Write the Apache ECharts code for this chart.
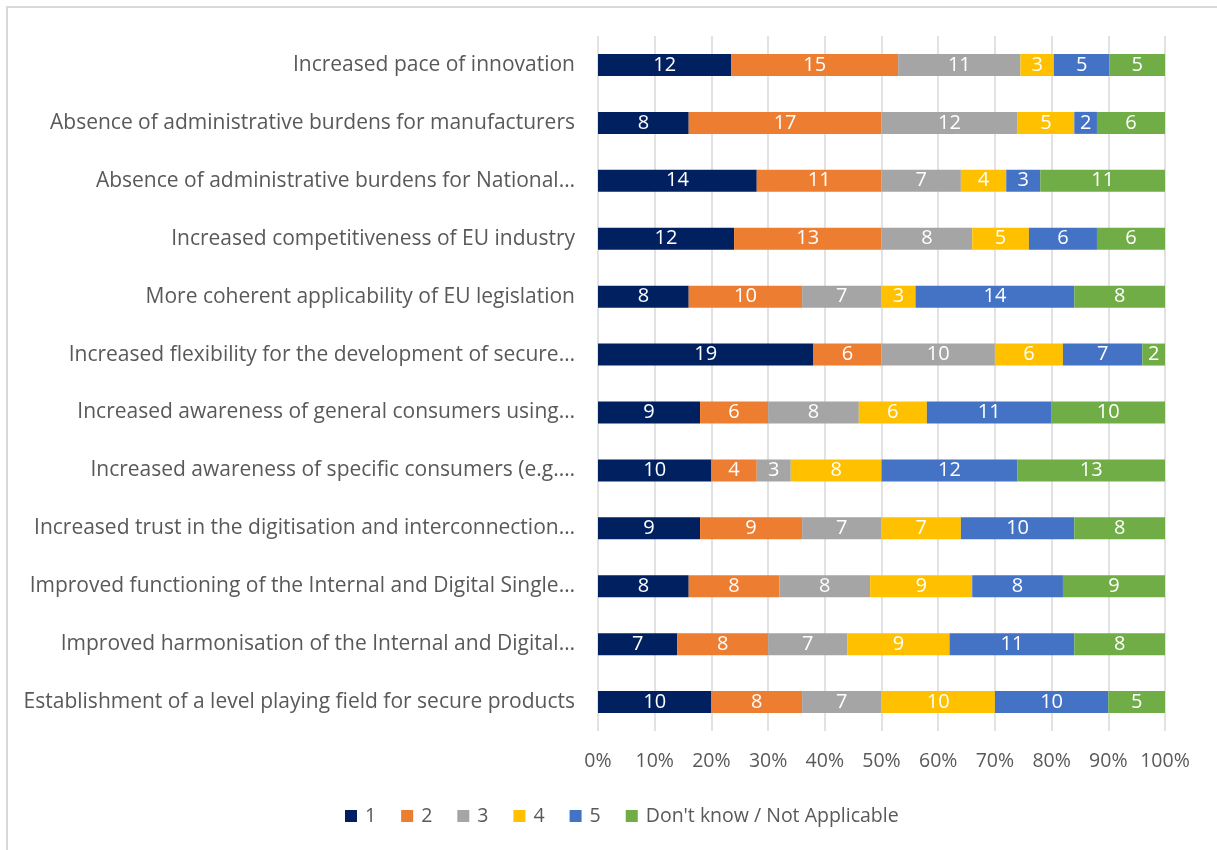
<!DOCTYPE html>
<html>
<head>
<meta charset="utf-8">
<title>Expected benefits</title>
<script src="https://cdn.jsdelivr.net/npm/echarts@6/dist/echarts.min.js"></script>
<style>
  html, body { margin: 0; padding: 0; background: #ffffff; }
  #chart { width: 1217px; height: 850px; }
</style>
</head>
<body>
<div id="chart"></div>
<script>
// Statements, top to bottom
const categories = [
  "Increased pace of innovation",
  "Absence of administrative burdens for manufacturers",
  "Absence of administrative burdens for National…",
  "Increased competitiveness of EU industry",
  "More coherent applicability of EU legislation",
  "Increased flexibility for the development of secure…",
  "Increased awareness of general consumers using…",
  "Increased awareness of specific consumers (e.g.…",
  "Increased trust in the digitisation and interconnection…",
  "Improved functioning of the Internal and Digital Single…",
  "Improved harmonisation of the Internal and Digital…",
  "Establishment of a level playing field for secure products"
];

// Number of respondents per rating, same order as categories
const rating1 = [12, 8, 14, 12, 8, 19, 9, 10, 9, 8, 7, 10];
const rating2 = [15, 17, 11, 13, 10, 6, 6, 4, 9, 8, 8, 8];
const rating3 = [11, 12, 7, 8, 7, 10, 8, 3, 7, 8, 7, 7];
const rating4 = [3, 5, 4, 5, 3, 6, 6, 8, 7, 9, 9, 10];
const rating5 = [5, 2, 3, 6, 14, 7, 11, 12, 10, 8, 11, 10];
const dontKnow = [5, 6, 11, 6, 8, 2, 10, 13, 8, 9, 8, 5];

const seriesNames = ["1", "2", "3", "4", "5", "Don't know / Not Applicable"];
const seriesCounts = [rating1, rating2, rating3, rating4, rating5, dontKnow];
const seriesColors = ["#002060", "#ED7D31", "#A5A5A5", "#FFC000", "#4472C4", "#70AD47"];
const xTicks = [0, 10, 20, 30, 40, 50, 60, 70, 80, 90, 100];

const FONT = "Open Sans";
const TEXT = "#595959";

// Row totals for the 100% stacking
const totals = categories.map((_, i) =>
  seriesCounts.reduce((s, arr) => s + arr[i], 0));

const series = seriesNames.map((name, k) => ({
  name: name,
  type: "bar",
  stack: "total",
  barWidth: 22,
  itemStyle: { color: seriesColors[k] },
  label: {
    show: true,
    position: "inside",
    color: "#ffffff",
    fontFamily: FONT,
    fontSize: 20,
    formatter: p => String(seriesCounts[k][p.dataIndex])
  },
  emphasis: { disabled: true },
  data: seriesCounts[k].map((v, i) => v / totals[i] * 100)
}));

const chart = echarts.init(document.getElementById("chart"), null, { renderer: "canvas" });
chart.setOption({
  animation: false,
  backgroundColor: "#ffffff",
  graphic: [{
    type: "rect",
    shape: { x: 7, y: 7, width: 1400, height: 1000 },
    style: { fill: "none", stroke: "#D9D9D9", lineWidth: 2 },
    silent: true,
    z: -10
  }],
  grid: { left: 598, right: 52, top: 36, bottom: 119, containLabel: false },
  legend: {
    bottom: 19,
    left: 340,
    itemWidth: 12,
    itemHeight: 12,
    itemGap: 25,
    icon: "rect",
    textStyle: { color: TEXT, fontFamily: FONT, fontSize: 19.5, padding: [0, 0, 0, 3] },
    data: seriesNames
  },
  xAxis: {
    type: "value",
    min: xTicks[0],
    max: xTicks[xTicks.length - 1],
    interval: xTicks[1] - xTicks[0],
    axisLine: { show: false },
    axisTick: { show: false },
    splitLine: { show: true, lineStyle: { color: "#D9D9D9", width: 1.5 } },
    axisLabel: {
      color: TEXT, fontFamily: FONT, fontSize: 19.5, margin: 20,
      formatter: "{value}%"
    }
  },
  yAxis: {
    type: "category",
    inverse: true,
    data: categories,
    axisLine: { show: false },
    axisTick: { show: false },
    axisLabel: { color: TEXT, fontFamily: FONT, fontSize: 21, margin: 23 }
  },
  series: series
});
</script>
</body>
</html>
